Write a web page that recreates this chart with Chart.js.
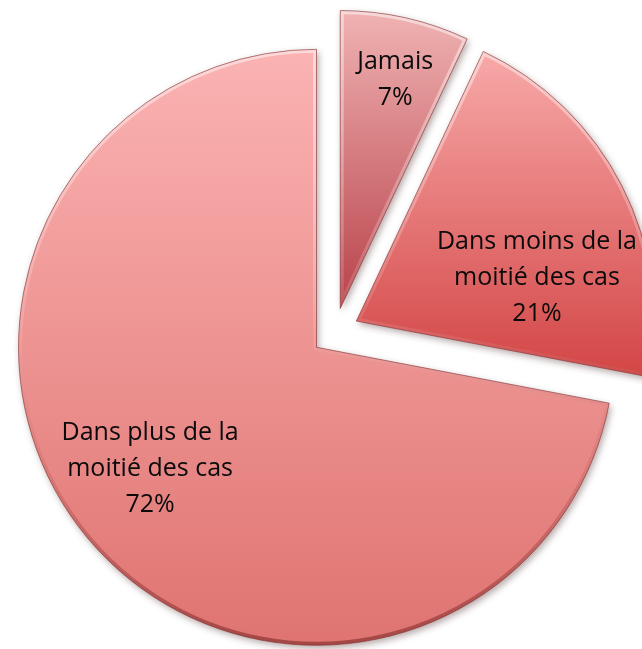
<!DOCTYPE html>
<html lang="fr">
<head>
<meta charset="utf-8">
<title>Fréquence</title>
<script src="https://cdn.jsdelivr.net/npm/chart.js@4.4.1/dist/chart.umd.min.js"></script>
<style>
  html, body { margin: 0; padding: 0; background: #fff; }
  canvas { display: block; }
</style>
</head>
<body>
<canvas id="pieChart" width="642" height="649"></canvas>
<script>
// Categories and shares (%)
const categories = ['Jamais', 'Dans moins de la moitié des cas', 'Dans plus de la moitié des cas'];
const shares = [7, 21, 72];
// How each category name is broken over lines inside its slice
const labelLines = [['Jamais'], ['Dans moins de la', 'moitié des cas'], ['Dans plus de la', 'moitié des cas']];

// Slice look
const topColors = ['#f0b3b3', '#f8a9a9', '#fbb3b3'];
const bottomColors = ['#b8424a', '#d34545', '#df7471'];
const EXPLODE = 24;   // px each slice is pulled out from the centre
const RADIUS = 298;

// Label anchor: fraction of the radius, and a small angular nudge (deg)
const labelDist = [0.79, 0.623, 0.692];
const labelTurn = [0.9, 13.6, 3.4];

function sliceAngles(i) {
    const total = shares.reduce((a, b) => a + b, 0);
    const before = shares.slice(0, i).reduce((a, b) => a + b, 0);
    const start = -Math.PI / 2 + before / total * Math.PI * 2;
    const end = start + shares[i] / total * Math.PI * 2;
    return { start, end, mid: (start + end) / 2 };
}

// vertical gradient spanning the slice's own height
function sliceFill(context) {
    const chart = context.chart;
    const area = chart.chartArea;
    const i = context.dataIndex;
    if (!area || i === undefined) return bottomColors[0];
    const { start, end, mid } = sliceAngles(i);
    const cx = (area.left + area.right) / 2 + Math.cos(mid) * EXPLODE;
    const cy = (area.top + area.bottom) / 2 + Math.sin(mid) * EXPLODE;
    let top = cy, bottom = cy;
    for (let k = 0; k <= 64; k++) {
        const y = cy + Math.sin(start + (end - start) * k / 64) * RADIUS;
        top = Math.min(top, y);
        bottom = Math.max(bottom, y);
    }
    const g = chart.ctx.createLinearGradient(0, top, 0, bottom);
    g.addColorStop(0, topColors[i]);
    g.addColorStop(1, bottomColors[i]);
    return g;
}

function slicePath(ctx, arc) {
    ctx.beginPath();
    ctx.moveTo(arc.x, arc.y);
    ctx.arc(arc.x, arc.y, arc.outerRadius, arc.startAngle, arc.endAngle);
    ctx.closePath();
}

const explodedPie = {
    id: 'explodedPie',
    afterDatasetsUpdate(chart) {
        chart.getDatasetMeta(0).data.forEach(arc => {
            const mid = (arc.startAngle + arc.endAngle) / 2;
            arc.x += Math.cos(mid) * EXPLODE;
            arc.y += Math.sin(mid) * EXPLODE;
        });
    },
    beforeDatasetsDraw(chart) {
        const ctx = chart.ctx;
        ctx.save();
        ctx.shadowColor = 'rgba(40, 0, 0, 0.35)';
        ctx.shadowBlur = 7;
        ctx.shadowOffsetX = 2;
        ctx.shadowOffsetY = 3;
    },
    afterDatasetsDraw(chart) {
        const ctx = chart.ctx;
        ctx.restore();
        const arcs = chart.getDatasetMeta(0).data;

        arcs.forEach(arc => {
            const r = arc.outerRadius;
            // soft bevel: light rim on top, darker rim underneath
            ctx.save();
            slicePath(ctx, arc);
            ctx.clip();
            const rim = ctx.createLinearGradient(0, arc.y - r, 0, arc.y + r);
            rim.addColorStop(0, 'rgba(255, 255, 255, 0.5)');
            rim.addColorStop(0.45, 'rgba(255, 255, 255, 0.15)');
            rim.addColorStop(0.7, 'rgba(120, 30, 30, 0.12)');
            rim.addColorStop(1, 'rgba(90, 15, 15, 0.45)');
            slicePath(ctx, arc);
            ctx.lineJoin = 'round';
            ctx.lineWidth = 7;
            ctx.strokeStyle = rim;
            ctx.stroke();
            ctx.restore();

            ctx.save();
            slicePath(ctx, arc);
            ctx.lineJoin = 'miter';
            ctx.lineWidth = 1;
            ctx.strokeStyle = 'rgba(130, 45, 45, 0.6)';
            ctx.stroke();
            ctx.restore();
        });

        // labels: name lines then the percentage
        ctx.save();
        ctx.fillStyle = '#0a0a0a';
        ctx.font = '25px "Open Sans"';
        ctx.textAlign = 'center';
        ctx.textBaseline = 'middle';
        const lineHeight = 36;
        arcs.forEach((arc, i) => {
            const a = (arc.startAngle + arc.endAngle) / 2 + labelTurn[i] * Math.PI / 180;
            const d = arc.outerRadius * labelDist[i];
            const x = arc.x + Math.cos(a) * d;
            const y = arc.y + Math.sin(a) * d;
            const lines = labelLines[i].concat(shares[i] + '%');
            lines.forEach((t, k) => {
                ctx.fillText(t, x, y + (k - (lines.length - 1) / 2) * lineHeight);
            });
        });
        ctx.restore();
    }
};

new Chart(document.getElementById('pieChart'), {
    type: 'pie',
    data: {
        labels: categories,
        datasets: [{
            data: shares,
            backgroundColor: sliceFill,
            borderWidth: 0
        }]
    },
    options: {
        responsive: false,
        animation: false,
        events: [],
        radius: RADIUS,
        layout: { padding: { left: 28, right: 0, top: 15, bottom: 0 } },
        plugins: {
            legend: { display: false },
            tooltip: { enabled: false }
        }
    },
    plugins: [explodedPie]
});
</script>
</body>
</html>
